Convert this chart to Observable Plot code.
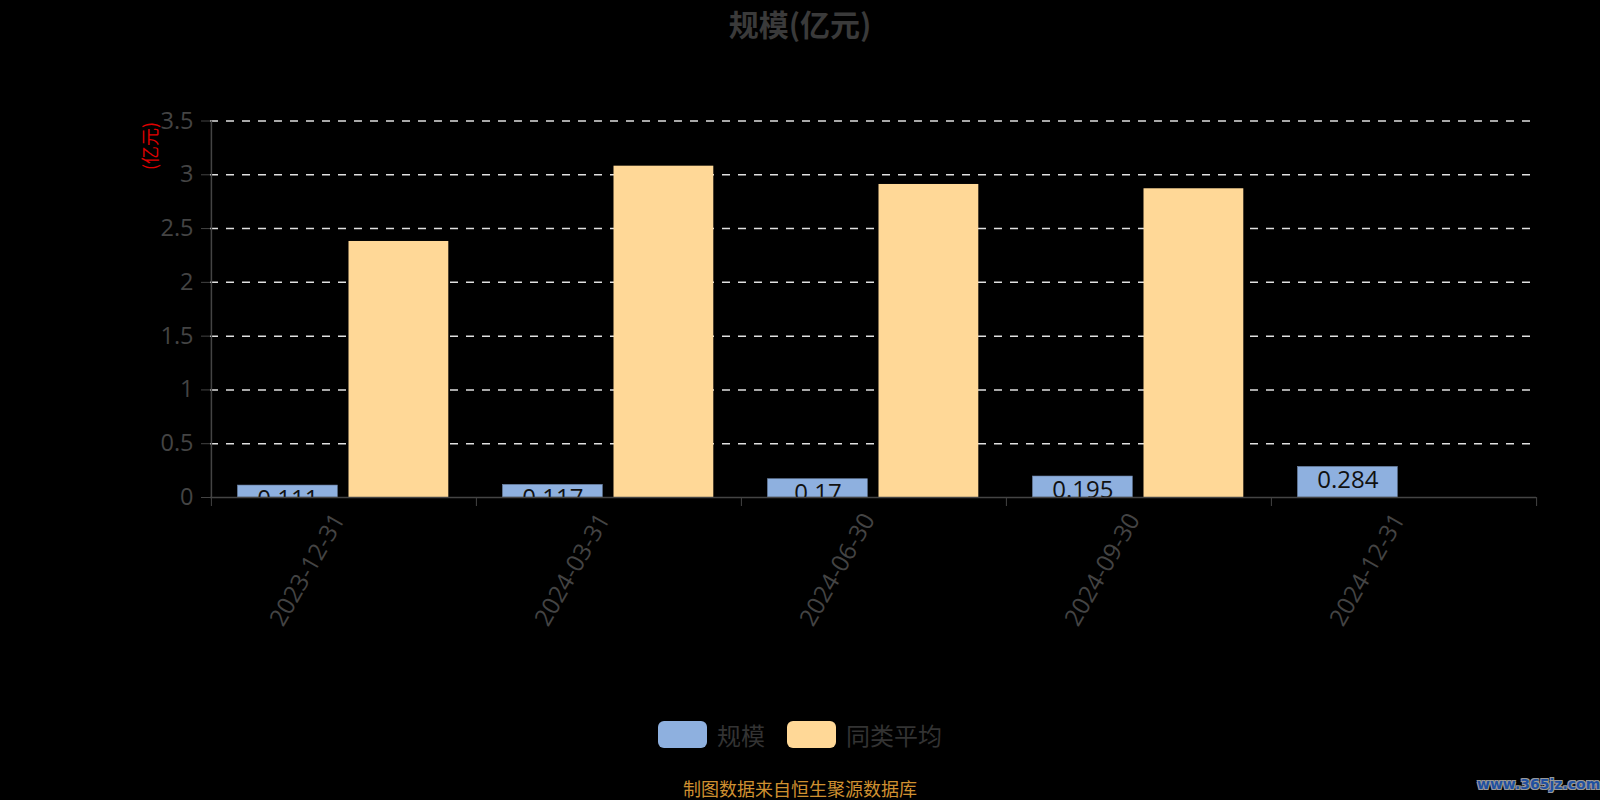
<!DOCTYPE html>
<html><head><meta charset="utf-8">
<script src="https://cdn.jsdelivr.net/npm/d3@7"></script>
<script src="https://cdn.jsdelivr.net/npm/@observablehq/plot@0.6"></script>
<style>
body{margin:0;background:#000;}
#wrap{position:relative;width:1600px;height:800px;background:#000;font-family:"Open Sans","Noto Sans CJK SC",sans-serif;overflow:hidden}
#title{position:absolute;left:0;top:2px;width:1600px;line-height:42px;text-align:center;font-size:30px;font-weight:bold;color:#3a3a3a;font-family:"Noto Sans CJK SC",sans-serif}
#yname{position:absolute;left:149px;top:146px;transform:translate(-50%,-50%) rotate(-90deg);color:#e00000;font-size:18px;white-space:nowrap;font-family:"Noto Sans CJK SC",sans-serif}
#chart{position:absolute;left:0;top:50px}
#legend{position:absolute;left:0;top:721px;height:27px;width:1600px;display:flex;justify-content:center;align-items:center;font-size:24px;color:#333;font-family:"Noto Sans CJK SC",sans-serif}
#legend .item{display:flex;align-items:center;margin:0 11px}
#legend .sw{width:49px;height:27px;border-radius:6px;margin-right:10px}
#footer{position:absolute;left:0;top:777px;width:1600px;line-height:22px;text-align:center;font-size:18px;color:#cf9030;font-family:"Noto Sans CJK SC",sans-serif}
#wm{position:absolute;left:1477px;top:776px;font-size:14px;font-weight:bold;color:#1f50a0;font-family:"DejaVu Sans",sans-serif;text-shadow:-1px -1px 0 #999,1px -1px 0 #999,-1px 1px 0 #999,1px 1px 0 #999}
</style></head><body>
<div id="wrap">
<div id="title">规模(亿元)</div>
<div id="yname">(亿元)</div>
<div id="chart"></div>
<div id="legend"></div>
<div id="footer">制图数据来自恒生聚源数据库</div>
<div id="wm">www.365jz.com</div>
</div>
<script>
const dates = ["2023-12-31","2024-03-31","2024-06-30","2024-09-30","2024-12-31"];
const scaleValues = [0.111,0.117,0.17,0.195,0.284];
const peerAvg = [2.38,3.08,2.91,2.87,null];
const yTicks = [0,0.5,1,1.5,2,2.5,3,3.5];
const gridTicks = [0.5,1,1.5,2,2.5,3,3.5];
const seriesNames = ["规模","同类平均"];
const seriesColors = ["#8eb0df","#ffd897"];

const W = 1600, H = 600, mL = 210, mR = 64, mT = 70.5, mB = 153;
const band = (W - mL - mR) / dates.length;
const barW = 100, outer = 26.5, gap = 11;

const blue = dates.map((d,i)=>({date:d, value:scaleValues[i]}));
const orange = dates.map((d,i)=>({date:d, value:peerAvg[i]})).filter(d=>d.value!=null);

const axisColor = "#444";
const chart = Plot.plot({
  width: W, height: H,
  marginLeft: mL, marginRight: mR, marginTop: mT, marginBottom: mB,
  style: {background:"transparent", fontFamily:"'Open Sans','Noto Sans CJK SC',sans-serif"},
  x: {domain: dates, padding: 0, axis: null},
  y: {domain: [0,3.5], axis: null},
  marks: [
    Plot.gridY(gridTicks, {stroke:"#e0e0e0", strokeOpacity:1, strokeWidth:1.5, strokeDasharray:"8,8"}),
    Plot.barY(blue, {x:"date", y:"value", fill:seriesColors[0], stroke:"#6f86a8", strokeWidth:0.6, insetLeft: outer, insetRight: band - outer - barW}),
    Plot.barY(orange, {x:"date", y:"value", fill:seriesColors[1], insetLeft: outer + barW + gap, insetRight: band - outer - 2*barW - gap}),
    Plot.text(blue, {x:"date", y:"value", text: d=>String(d.value), dx: outer + barW/2 - band/2, dy: 4.5, lineAnchor:"top", fill:"#111", fontSize:24, clip:true}),
    Plot.ruleY([0], {stroke: axisColor, strokeWidth:1.5}),
    Plot.ruleX([dates[0]], {dx: -band/2, stroke: axisColor, strokeWidth:1.5}),
    Plot.axisY(yTicks, {anchor:"left", label:null, tickSize:9, tickPadding:8, fontSize:23.5, stroke: axisColor, fill: axisColor, tickFormat: d=>String(d)}),
    Plot.axisX({anchor:"bottom", label:null, tickSize:0, tickPadding:18, dx:-5, tickRotate:-60, fontSize:24, fill: axisColor}),
    Plot.axisX(dates, {anchor:"bottom", label:null, tickSize:9, text:null, dx:-band/2, stroke: axisColor}),
    Plot.axisX([dates[dates.length-1]], {anchor:"bottom", label:null, tickSize:9, text:null, dx:band/2, stroke: axisColor})
  ]
});
document.getElementById("chart").appendChild(chart);

const leg = document.getElementById("legend");
seriesNames.forEach((n,i)=>{
  const it = document.createElement("div"); it.className="item";
  const sw = document.createElement("div"); sw.className="sw"; sw.style.background = seriesColors[i];
  const t = document.createElement("span"); t.textContent = n;
  it.appendChild(sw); it.appendChild(t); leg.appendChild(it);
});
</script>
</body></html>
